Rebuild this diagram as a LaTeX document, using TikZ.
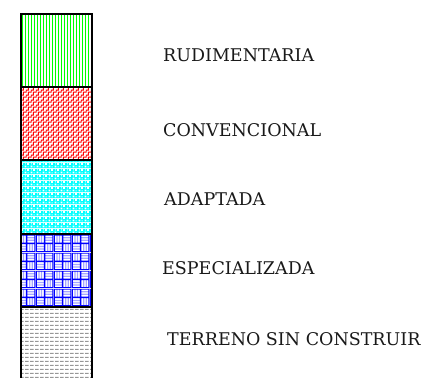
\documentclass[tikz,border=0pt]{standalone}
\usepackage{fontspec}
\setmainfont{DejaVu Serif}
\usetikzlibrary{patterns}
\definecolor{usoverde}{RGB}{0,255,0}
\definecolor{usorojo}{RGB}{255,0,0}
\definecolor{usocian}{RGB}{0,255,255}
\definecolor{usoazul}{RGB}{0,0,255}
\definecolor{usoazulclaro}{RGB}{165,165,255}
\definecolor{usogris}{RGB}{150,150,150}
% Tramas de la leyenda.
\pgfdeclarepatternformonly{rayasverticales}{\pgfpoint{0bp}{-1bp}}{\pgfpoint{3bp}{4bp}}{\pgfpoint{3bp}{3bp}}{%
  \pgfsetlinewidth{1bp}%
  \pgfpathmoveto{\pgfpoint{1.5bp}{-1bp}}\pgfpathlineto{\pgfpoint{1.5bp}{4bp}}%
  \pgfusepath{stroke}}
\pgfdeclarepatternformonly{escalones}{\pgfpointorigin}{\pgfpoint{5bp}{5bp}}{\pgfpoint{5bp}{5bp}}{%
  \pgfsetlinewidth{1.1bp}\pgfsetrectcap%
  \pgfpathmoveto{\pgfpoint{4bp}{1bp}}\pgfpathlineto{\pgfpoint{5.5bp}{1bp}}%
  \pgfpathmoveto{\pgfpoint{-0.5bp}{1bp}}\pgfpathlineto{\pgfpoint{1.5bp}{1bp}}%
  \pgfpathlineto{\pgfpoint{1.5bp}{3.5bp}}\pgfpathlineto{\pgfpoint{4bp}{3.5bp}}%
  \pgfpathlineto{\pgfpoint{4bp}{5.5bp}}%
  \pgfpathmoveto{\pgfpoint{4bp}{-0.5bp}}\pgfpathlineto{\pgfpoint{4bp}{1bp}}%
  \pgfusepath{stroke}}
\pgfdeclarepatterninherentlycolored{puntoscian}{\pgfpointorigin}{\pgfpoint{6bp}{6bp}}{\pgfpoint{6bp}{6bp}}{%
  \pgfsetfillcolor{usocian}%
  \pgfpathrectangle{\pgfpointorigin}{\pgfpoint{6bp}{6bp}}\pgfusepath{fill}%
  \pgfsetfillcolor{white}%
  \pgfpathrectangle{\pgfpoint{0.6bp}{0.6bp}}{\pgfpoint{2bp}{2bp}}%
  \pgfpathrectangle{\pgfpoint{3.6bp}{3.6bp}}{\pgfpoint{2bp}{2bp}}%
  \pgfpathrectangle{\pgfpoint{4.2bp}{0.8bp}}{\pgfpoint{1bp}{1bp}}%
  \pgfpathrectangle{\pgfpoint{1.2bp}{4.2bp}}{\pgfpoint{1bp}{1bp}}%
  \pgfusepath{fill}}
\pgfdeclarepatterninherentlycolored{cesteria}{\pgfpointorigin}{\pgfpoint{18bp}{18bp}}{\pgfpoint{18bp}{18bp}}{%
  \pgfsetfillcolor{white}%
  \pgfpathrectangle{\pgfpointorigin}{\pgfpoint{18bp}{18bp}}\pgfusepath{fill}%
  \pgfsetfillcolor{usoazulclaro}%
  % bloques horizontales
  \pgfpathrectangle{\pgfpoint{0bp}{2.6bp}}{\pgfpoint{9bp}{1.2bp}}%
  \pgfpathrectangle{\pgfpoint{0bp}{5.2bp}}{\pgfpoint{9bp}{1.2bp}}%
  \pgfpathrectangle{\pgfpoint{9bp}{11.6bp}}{\pgfpoint{9bp}{1.2bp}}%
  \pgfpathrectangle{\pgfpoint{9bp}{14.2bp}}{\pgfpoint{9bp}{1.2bp}}%
  % bloques verticales
  \pgfpathrectangle{\pgfpoint{11.6bp}{0bp}}{\pgfpoint{1.2bp}{9bp}}%
  \pgfpathrectangle{\pgfpoint{14.2bp}{0bp}}{\pgfpoint{1.2bp}{9bp}}%
  \pgfpathrectangle{\pgfpoint{2.6bp}{9bp}}{\pgfpoint{1.2bp}{9bp}}%
  \pgfpathrectangle{\pgfpoint{5.2bp}{9bp}}{\pgfpoint{1.2bp}{9bp}}%
  \pgfusepath{fill}%
  \pgfsetstrokecolor{usoazul}\pgfsetlinewidth{0.8bp}%
  \pgfpathrectangle{\pgfpoint{0.4bp}{0.4bp}}{\pgfpoint{8.2bp}{8.2bp}}%
  \pgfpathrectangle{\pgfpoint{9.4bp}{0.4bp}}{\pgfpoint{8.2bp}{8.2bp}}%
  \pgfpathrectangle{\pgfpoint{0.4bp}{9.4bp}}{\pgfpoint{8.2bp}{8.2bp}}%
  \pgfpathrectangle{\pgfpoint{9.4bp}{9.4bp}}{\pgfpoint{8.2bp}{8.2bp}}%
  \pgfusepath{stroke}}
\pgfdeclarepatternformonly{guiones}{\pgfpointorigin}{\pgfpoint{5bp}{4bp}}{\pgfpoint{5bp}{4bp}}{%
  \pgfsetlinewidth{1bp}%
  \pgfpathmoveto{\pgfpoint{0bp}{2bp}}\pgfpathlineto{\pgfpoint{4.3bp}{2bp}}%
  \pgfusepath{stroke}}
\tikzset{
  etiqueta/.style={anchor=base west,inner sep=0pt,
    font=\fontsize{17.5bp}{20bp}\selectfont,text=black!90},
  borde/.style={line width=1.4bp,black}
}
\begin{document}
\begin{tikzpicture}[x=1bp,y=-1bp]
  \useasboundingbox (0,0) rectangle (424,378);
  % Franjas de la columna.
  \fill[pattern=rayasverticales,pattern color=usoverde]
       (21,14) rectangle (92,87);
  \fill[pattern=escalones,pattern color=usorojo]
       (21,87) rectangle (92,160);
  \fill[pattern=puntoscian] (21,160) rectangle (92,234);
  \fill[pattern=cesteria] (21,234) rectangle (92,307);
  \fill[pattern=guiones,pattern color=usogris]
       (21,307) rectangle (92,378);
  \draw[borde] (21,378)--(21,14)--(92,14)--(92,378);
  \draw[borde] (21,87)--(92,87);
  \draw[borde] (21,160)--(92,160);
  \draw[borde] (21,234)--(92,234);
  \draw[borde] (21,307)--(92,307);
  % Textos de la leyenda.
  \node[etiqueta] (rudimentaria) at (163,61.3) {RUDIMENTARIA};
  \node[etiqueta] (convencional) at (163,136) {CONVENCIONAL};
  \node[etiqueta] (adaptada) at (164,205) {ADAPTADA};
  \node[etiqueta] (especializada) at (162,274) {ESPECIALIZADA};
  \node[etiqueta] (terreno) at (167,345.5) {TERRENO SIN CONSTRUIR};
\end{tikzpicture}
\end{document}
